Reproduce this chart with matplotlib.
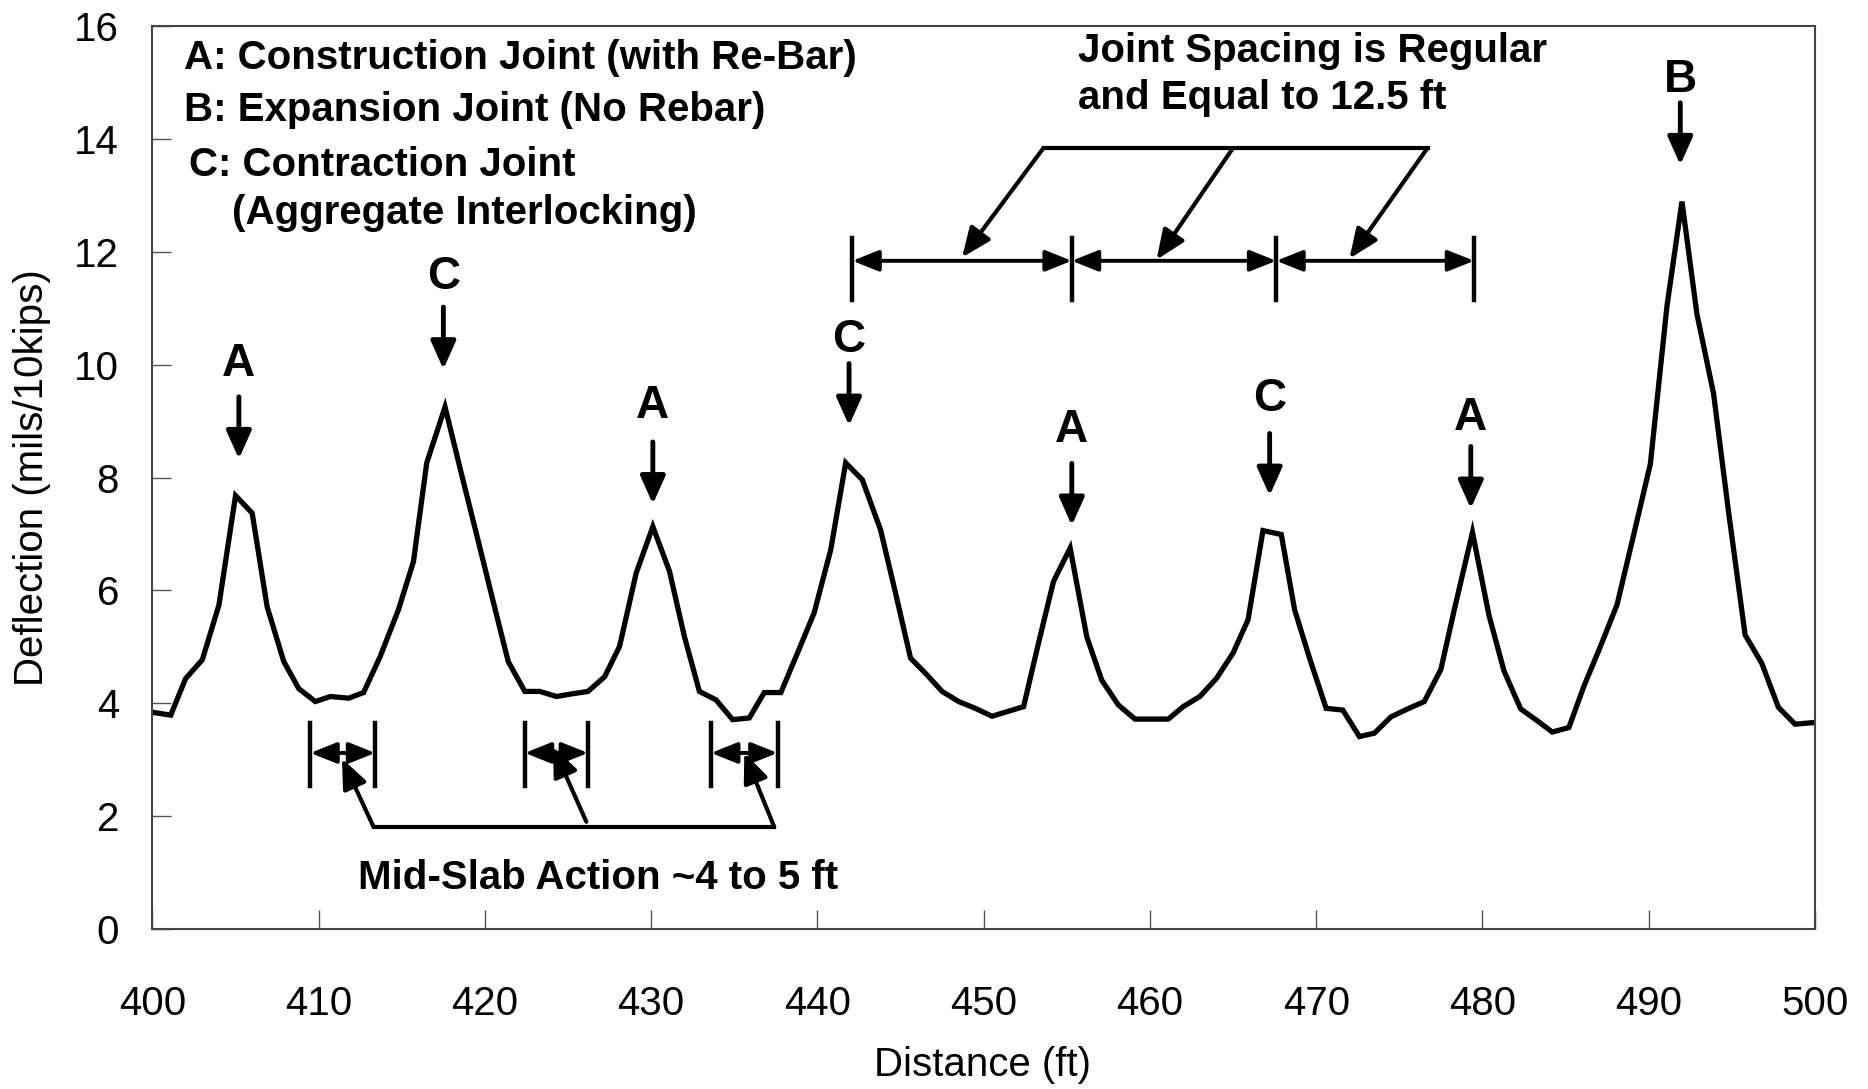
import matplotlib
matplotlib.use("Agg")
import matplotlib.pyplot as plt

# deflection profile
distance = [400.0, 401.1, 402.0, 403.0, 404.0, 405.0, 406.0, 406.9, 407.9, 408.8,
            409.8, 410.7, 411.8, 412.7, 413.7, 414.8, 415.7, 416.5, 417.6, 418.6,
            419.5, 420.5, 421.4, 422.4, 423.3, 424.3, 425.3, 426.2, 427.2, 428.1,
            429.1, 430.1, 431.1, 432.0, 432.9, 433.9, 434.9, 435.9, 436.8, 437.8,
            438.8, 439.8, 440.8, 441.7, 442.7, 443.8, 444.7, 445.6, 446.6, 447.5,
            448.5, 449.5, 450.5, 451.5, 452.4, 453.3, 454.2, 455.2, 456.2, 457.1,
            458.1, 459.1, 460.1, 461.1, 462.0, 463.0, 464.0, 465.0, 465.9, 466.8,
            467.9, 468.7, 469.6, 470.6, 471.6, 472.6, 473.5, 474.5, 475.5, 476.5,
            477.5, 478.3, 479.4, 480.4, 481.3, 482.3, 483.3, 484.2, 485.2, 486.1,
            487.1, 488.1, 489.1, 490.1, 491.1, 492.0, 492.9, 493.9, 494.8, 495.8,
            496.8, 497.8, 498.8, 500.0]
deflection = [3.84, 3.79, 4.44, 4.77, 5.74, 7.68, 7.37, 5.71, 4.74, 4.26,
              4.03, 4.12, 4.09, 4.19, 4.83, 5.66, 6.51, 8.26, 9.25, 8.05,
              6.99, 5.80, 4.74, 4.21, 4.21, 4.12, 4.17, 4.21, 4.47, 5.01,
              6.31, 7.13, 6.34, 5.18, 4.21, 4.06, 3.71, 3.74, 4.19, 4.19,
              4.89, 5.60, 6.72, 8.26, 7.96, 7.07, 5.95, 4.80, 4.50, 4.21,
              4.03, 3.91, 3.77, 3.86, 3.94, 5.07, 6.16, 6.75, 5.18, 4.41,
              3.97, 3.72, 3.72, 3.72, 3.94, 4.12, 4.44, 4.89, 5.48, 7.06,
              6.99, 5.66, 4.80, 3.91, 3.88, 3.41, 3.47, 3.76, 3.90, 4.03,
              4.60, 5.65, 7.03, 5.55, 4.57, 3.90, 3.69, 3.49, 3.57, 4.30,
              5.01, 5.75, 6.99, 8.24, 11.04, 12.89, 10.90, 9.49, 7.40, 5.21,
              4.71, 3.93, 3.63, 3.66]

# joints marked on the plot
joint_x = [405.2, 417.5, 430.1, 441.9, 455.3, 467.2, 479.3, 491.9]
joint_type = ["A", "C", "A", "C", "A", "C", "A", "B"]
joint_tip = [8.33, 9.92, 7.53, 8.92, 7.15, 7.68, 7.45, 13.54]
joint_label_y = [10.02, 11.56, 9.26, 10.44, 8.84, 9.39, 9.05, 15.04]

# regular joint spacing and mid-slab zones
spacing_x = [442.1, 455.3, 467.6, 479.5]
midslab_zones = [(409.5, 413.4), (422.4, 426.2), (433.6, 437.6)]

legend_lines = ["A: Construction Joint (with Re-Bar)",
                "B: Expansion Joint (No Rebar)",
                "C: Contraction Joint",
                "(Aggregate Interlocking)"]

narrow = ["Liberation Sans Narrow", "Liberation Sans", "DejaVu Sans"]
bold = ["Liberation Sans", "DejaVu Sans"]
fs = 29

fig = plt.figure(figsize=(18.68, 10.89), dpi=100)
ax = fig.add_axes([0.0816, 0.1469, 0.8900, 0.8292])

ax.plot(distance, deflection, color="black", linewidth=3.8, solid_joinstyle="miter")

ax.set_xlim(400, 500)
ax.set_ylim(0, 16)
ax.set_xticks(range(400, 501, 10))
ax.set_yticks(range(0, 17, 2))
ax.tick_params(direction="in", length=14, width=1, color="#555555")
ax.tick_params(axis="x", pad=40)
ax.tick_params(axis="y", pad=24)
for lab in ax.get_xticklabels() + ax.get_yticklabels():
    lab.set_family(narrow)
    lab.set_fontsize(29)
for sp in ax.spines.values():
    sp.set_color("#444444")
    sp.set_linewidth(1.5)

ax.set_xlabel("Distance (ft)", family=narrow, fontsize=29)
ax.set_ylabel("Deflection (mils/10kips)", family=narrow, fontsize=29)
ax.xaxis.set_label_coords(0.4993, -0.130)
ax.yaxis.set_label_coords(-0.061, 0.50)

# legend-like text block
ax.text(401.9, 15.44, legend_lines[0], family=bold, weight="bold", fontsize=fs, va="center")
ax.text(401.9, 14.51, legend_lines[1], family=bold, weight="bold", fontsize=fs, va="center")
ax.text(402.2, 13.54, legend_lines[2], family=bold, weight="bold", fontsize=fs, va="center")
ax.text(404.8, 12.68, legend_lines[3], family=bold, weight="bold", fontsize=fs, va="center")

ax.text(455.7, 15.55, "Joint Spacing is Regular", family=bold, weight="bold", fontsize=fs, va="center")
ax.text(455.7, 14.73, "and Equal to 12.5 ft", family=bold, weight="bold", fontsize=fs, va="center")

# joint letters with down arrows
head = dict(arrowstyle="-|>,head_length=0.85,head_width=0.38", lw=3.5, color="black",
            shrinkA=0, shrinkB=0, mutation_scale=20)
for x, t, tip, ly in zip(joint_x, joint_type, joint_tip, joint_label_y):
    ax.annotate("", xy=(x, tip), xytext=(x, tip + 1.1), arrowprops=head)
    ax.text(x, ly, t, family=bold, weight="bold", fontsize=33,
            ha="center", va="center")

# joint spacing dimension line
dbl = dict(arrowstyle="<|-|>,head_length=0.8,head_width=0.32", lw=2.8, color="black",
           shrinkA=0, shrinkB=0, mutation_scale=20)
for x0, x1 in zip(spacing_x[:-1], spacing_x[1:]):
    ax.annotate("", xy=(x1, 11.84), xytext=(x0, 11.84), arrowprops=dbl)
for x in spacing_x:
    ax.plot([x, x], [11.14, 12.24], color="black", lw=3.2)
ax.plot([453.6, 476.7], [13.84, 13.84], color="black", lw=3)
pointer = dict(arrowstyle="-|>,head_length=0.9,head_width=0.38", lw=3, color="black",
               shrinkA=0, shrinkB=0, mutation_scale=20)
ax.annotate("", xy=(448.7, 11.90), xytext=(453.6, 13.84), arrowprops=pointer)
ax.annotate("", xy=(460.4, 11.86), xytext=(465.0, 13.84), arrowprops=pointer)
ax.annotate("", xy=(472.0, 11.88), xytext=(476.7, 13.84), arrowprops=pointer)

# mid-slab zones
for x0, x1 in midslab_zones:
    ax.annotate("", xy=(x1, 3.12), xytext=(x0, 3.12), arrowprops=dbl)
    ax.plot([x0, x0], [2.53, 3.65], color="black", lw=3.2)
    ax.plot([x1, x1], [2.53, 3.65], color="black", lw=3.2)
ax.plot([413.3, 437.4], [1.81, 1.81], color="black", lw=3)
ax.annotate("", xy=(411.4, 3.02), xytext=(413.3, 1.81), arrowprops=pointer)
ax.annotate("", xy=(424.1, 3.23), xytext=(426.1, 1.90), arrowprops=pointer)
ax.annotate("", xy=(435.6, 3.12), xytext=(437.4, 1.81), arrowprops=pointer)
ax.text(426.8, 0.91, "Mid-Slab Action ~4 to 5 ft", family=bold, weight="bold", fontsize=fs,
        ha="center", va="center")

fig.savefig("out.png", dpi=100)
